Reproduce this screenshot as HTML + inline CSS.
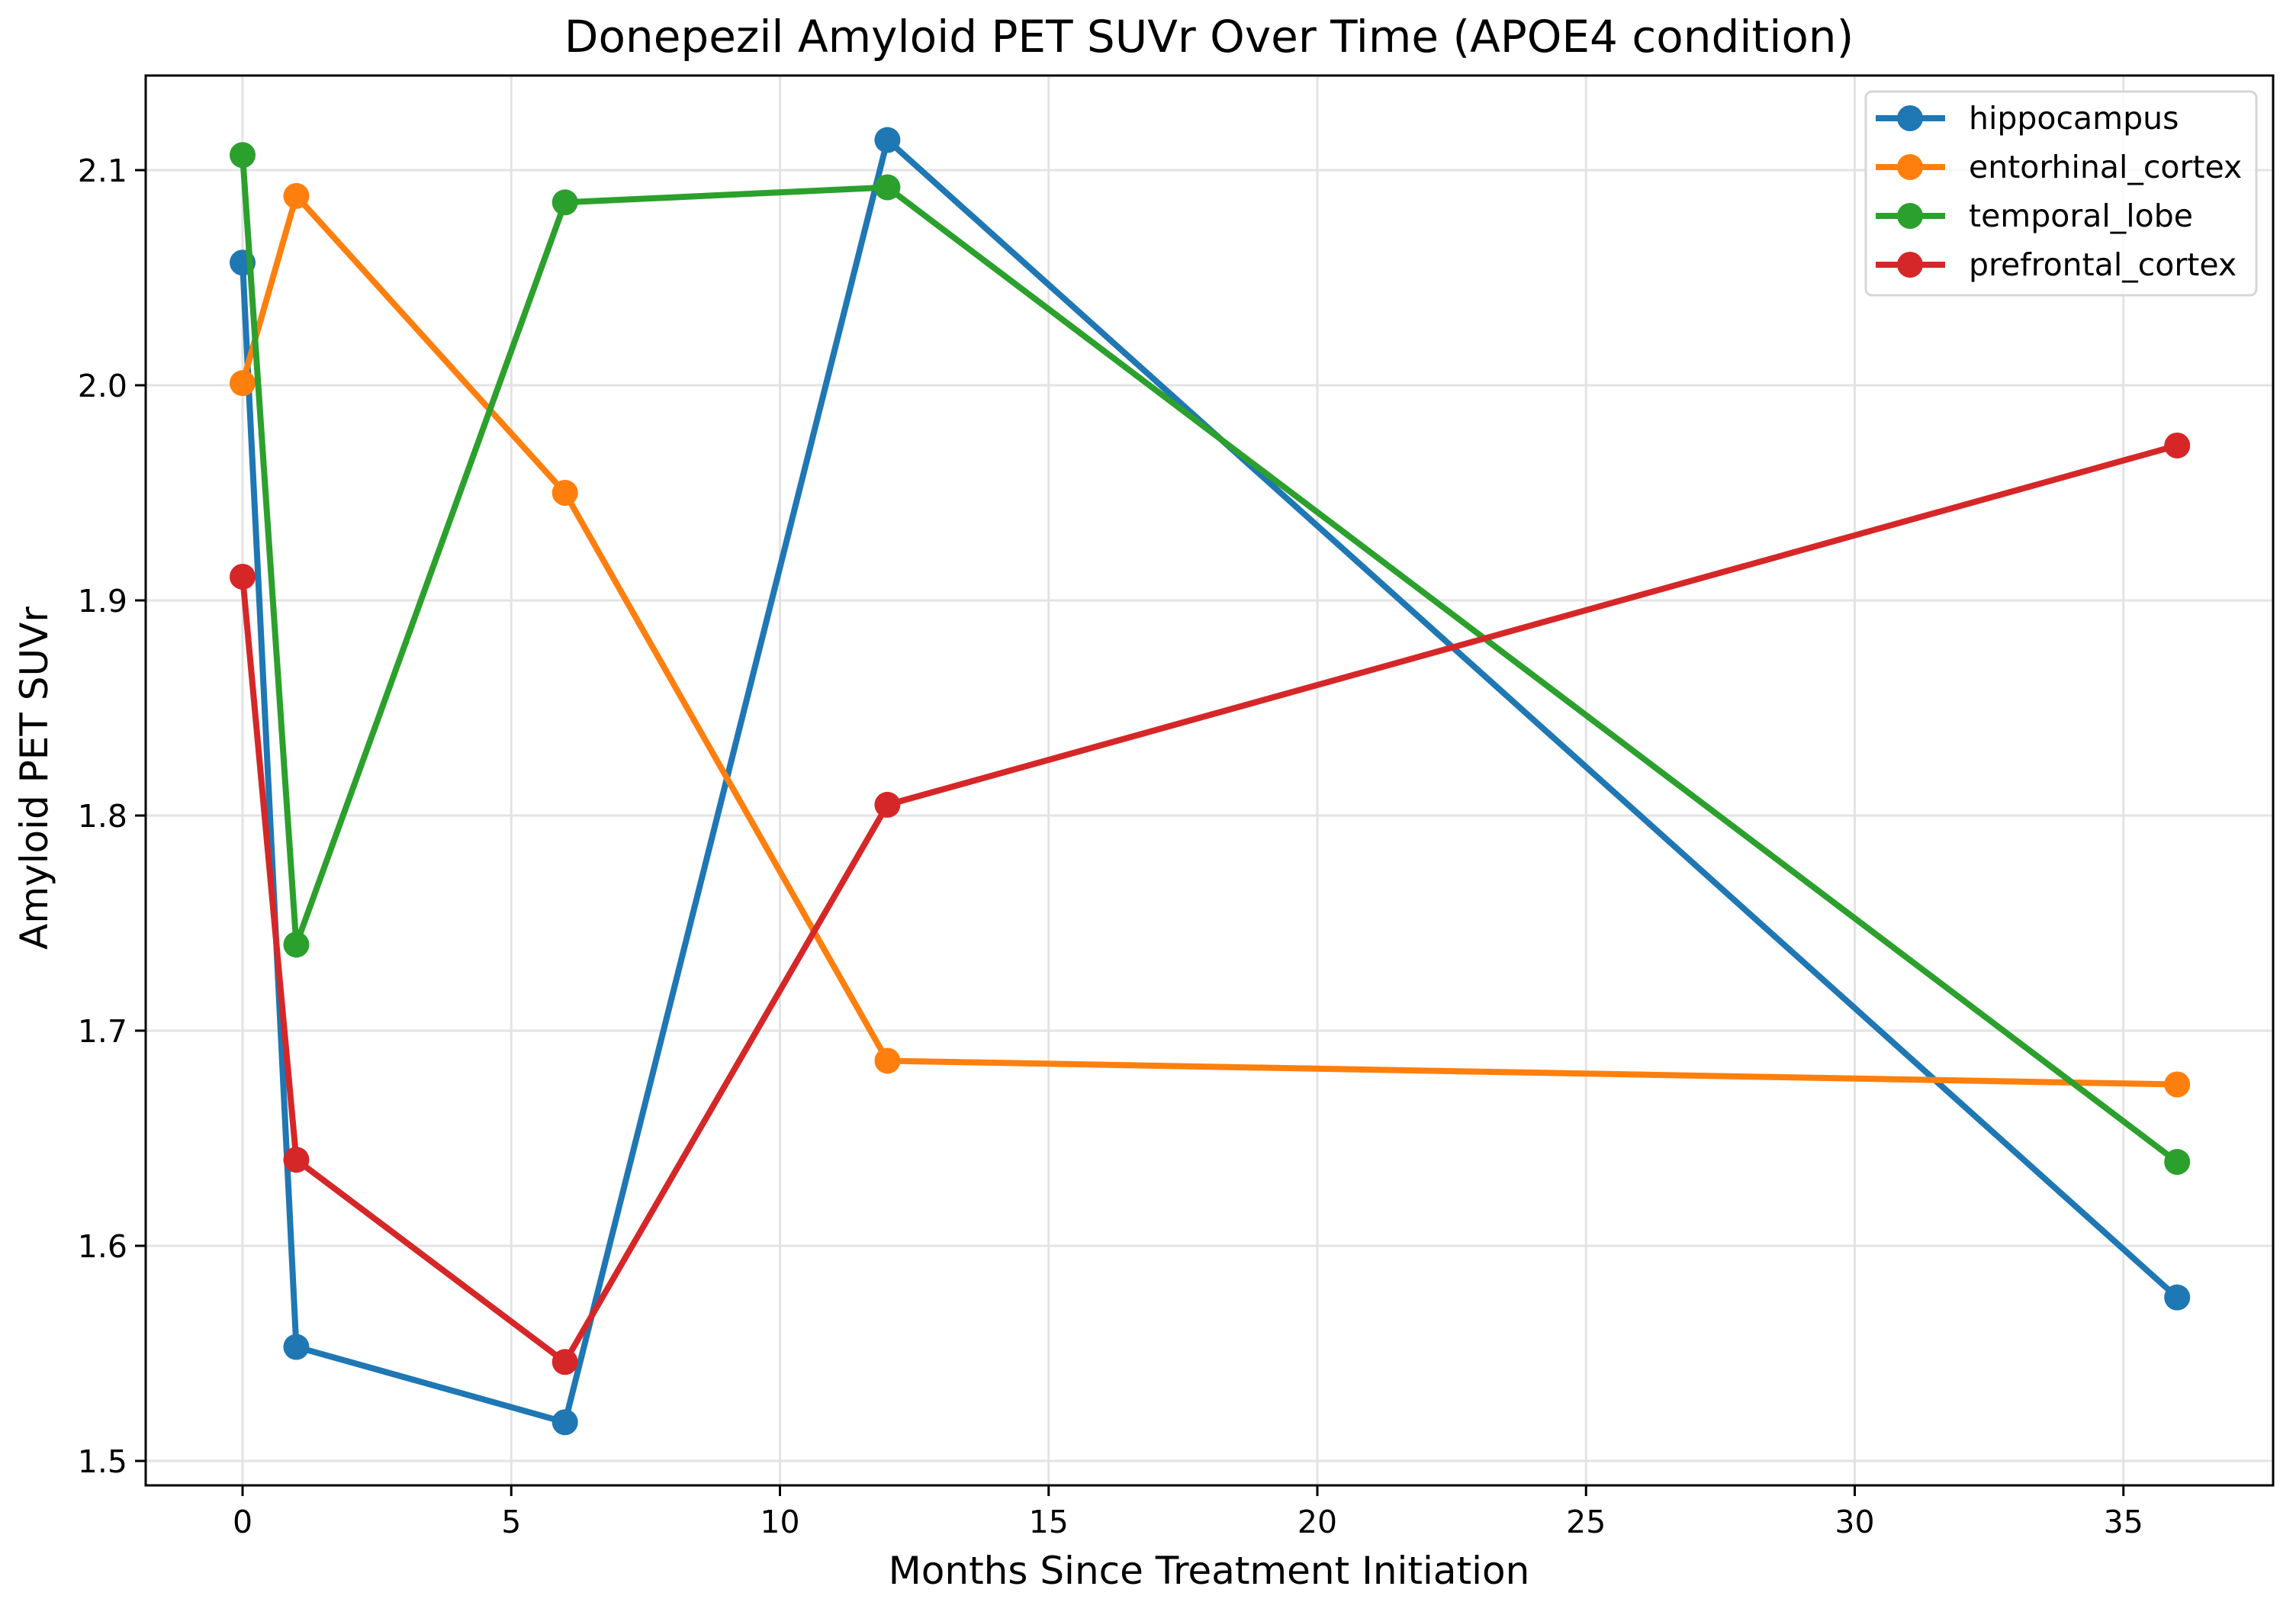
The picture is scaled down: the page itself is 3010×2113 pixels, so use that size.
<!DOCTYPE html>
<html><head><meta charset="utf-8"><style>
html,body{margin:0;padding:0;background:#fff;}
svg{display:block;font-family:"DejaVu Sans","Liberation Sans",sans-serif;}
</style></head><body>
<svg id="chart" width="3010" height="2113" viewBox="0 0 3010 2113" xmlns="http://www.w3.org/2000/svg">
<rect width="3010" height="2113" fill="#fff"/>
<text x="1585" y="68" font-size="58" text-anchor="middle">Donepezil Amyloid PET SUVr Over Time (APOE4 condition)</text>
<g id="grid"></g>
<g id="axes"></g>
<g id="series"></g>
<text x="1585" y="2076" font-size="50" text-anchor="middle">Months Since Treatment Initiation</text>
<text transform="translate(62,1020) rotate(-90)" font-size="50" text-anchor="middle">Amyloid PET SUVr</text>
<g id="legend"></g>
</svg>
<script>
const months = [0, 1, 6, 12, 36];
const seriesNames = ["hippocampus", "entorhinal_cortex", "temporal_lobe", "prefrontal_cortex"];
const hippocampus = [2.057, 1.553, 1.518, 2.114, 1.576];
const entorhinalCortex = [2.001, 2.088, 1.950, 1.686, 1.675];
const temporalLobe = [2.107, 1.740, 2.085, 2.092, 1.639];
const prefrontalCortex = [1.911, 1.640, 1.546, 1.805, 1.972];
const xTicks = [0, 5, 10, 15, 20, 25, 30, 35];
const yTicks = [1.5, 1.6, 1.7, 1.8, 1.9, 2.0, 2.1];
const colors = ["#1f77b4", "#ff7f0e", "#2ca02c", "#d62728"];

const NS = "http://www.w3.org/2000/svg";
const L = 191, R = 2980, T = 99, B = 1947;
const xScale = v => 318 + v * 70.45;
const yScale = v => 1915 - (v - 1.5) * 2820;
function mk(tag, attrs, parent) {
  const e = document.createElementNS(NS, tag);
  for (const k in attrs) e.setAttribute(k, attrs[k]);
  parent.appendChild(e);
  return e;
}
const grid = document.getElementById('grid');
const axes = document.getElementById('axes');
xTicks.forEach(t => {
  const x = xScale(t);
  const g = mk('line', {x1: x, x2: x, y1: T, y2: B, stroke: '#e3e3e3', 'stroke-width': 3}, grid);
  
  
  const tk = mk('line', {x1: x, x2: x, y1: B, y2: B + 14, stroke: '#000', 'stroke-width': 3}, axes);
  
  
  const tl = mk('text', {x: x, y: B + 62, 'font-size': 41, 'text-anchor': 'middle'}, axes);
  tl.textContent = String(t);
  
  
});
yTicks.forEach(t => {
  const y = yScale(t);
  const g = mk('line', {x1: L, x2: R, y1: y, y2: y, stroke: '#e3e3e3', 'stroke-width': 3}, grid);
  
  
  const tk = mk('line', {x1: L - 14, x2: L, y1: y, y2: y, stroke: '#000', 'stroke-width': 3}, axes);
  
  
  const tl = mk('text', {x: L - 24, y: y + 15, 'font-size': 41, 'text-anchor': 'end'}, axes);
  tl.textContent = t.toFixed(1);
  
  
});
const frame = mk('rect', {x: L, y: T, width: R - L, height: B - T, fill: 'none', stroke: '#000', 'stroke-width': 3}, axes);



const allSeries = [hippocampus, entorhinalCortex, temporalLobe, prefrontalCortex];
const sg = document.getElementById('series');
allSeries.forEach((vals, i) => {
  const g = mk('g', {}, sg);
  
  
  const pts = vals.map((v, j) => xScale(months[j]) + ',' + yScale(v)).join(' ');
  const pl = mk('polyline', {points: pts, fill: 'none', stroke: colors[i], 'stroke-width': 8, 'stroke-linejoin': 'round'}, g);
  
  
  vals.forEach((v, j) => {
    const c = mk('circle', {cx: xScale(months[j]), cy: yScale(v), r: 17, fill: colors[i]}, g);
    
    
  });
});

const lg = document.getElementById('legend');
const box = mk('rect', {x: 2446, y: 120, width: 512, height: 267, rx: 8, fill: '#fff', 'fill-opacity': 0.8, stroke: '#d6d6d6', 'stroke-width': 3}, lg);


seriesNames.forEach((n, i) => {
  const y = 155 + i * 64;
  const g = mk('g', {}, lg);
  
  
  mk('line', {x1: 2459, x2: 2550, y1: y, y2: y, stroke: colors[i], 'stroke-width': 8}, g);
  mk('circle', {cx: 2504, cy: y, r: 17, fill: colors[i]}, g);
  const t = mk('text', {x: 2581, y: y + 14, 'font-size': 41}, g);
  t.textContent = n;
});
</script>
</body></html>
